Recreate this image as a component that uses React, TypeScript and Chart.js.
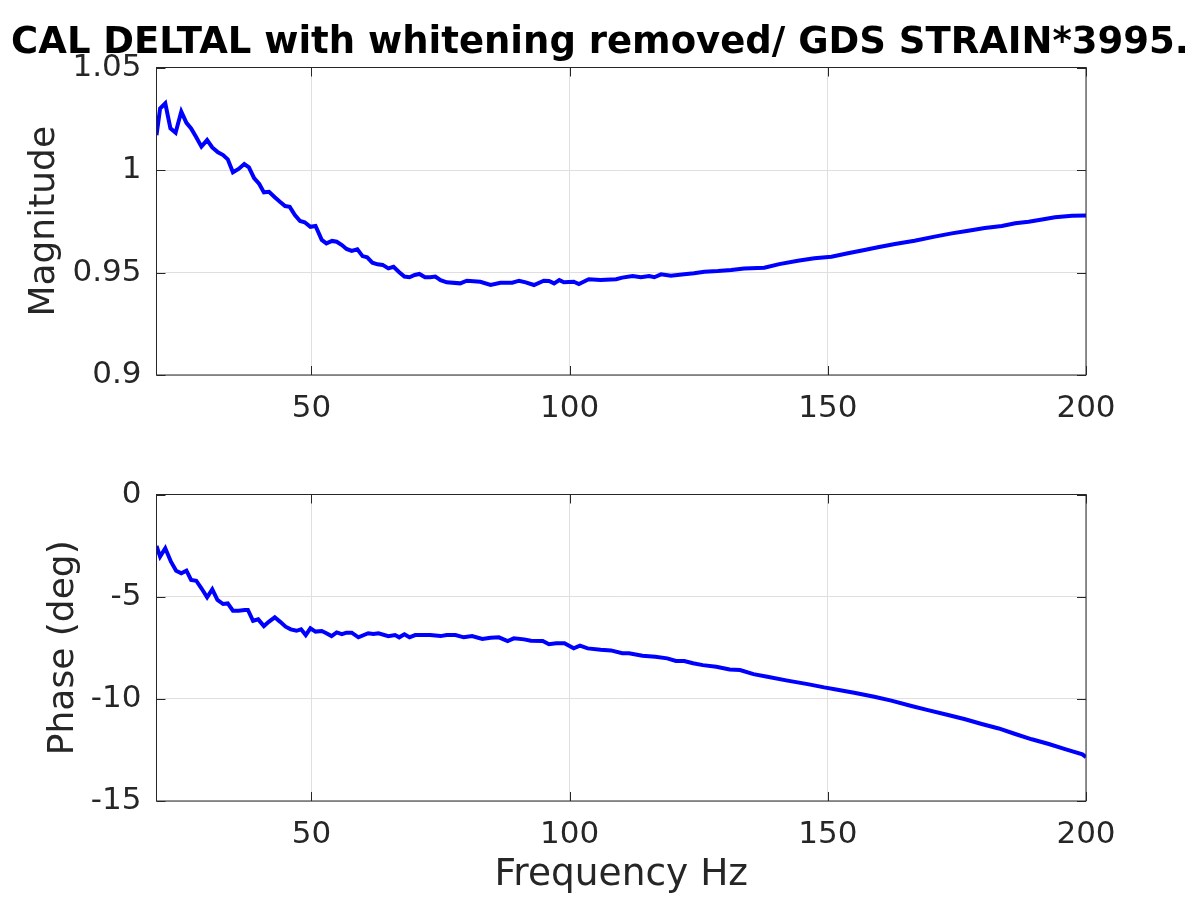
import React, { useEffect, useRef } from 'react';
import { Chart, ChartConfiguration, registerables } from 'chart.js';

Chart.register(...registerables);

const FONT = '"DejaVu Sans", sans-serif';
const TEXT = '#262626';
const GRID = '#dfdfdf';
const LINE = '#0000ff';

const titleText = 'CAL DELTAL with whitening removed/ GDS STRAIN*3995.';
const freqLabel = 'Frequency Hz';
const magLabel = 'Magnitude';
const phaseLabel = 'Phase (deg)';

const freqTicks = [50, 100, 150, 200];
const magTicks = [0.9, 0.95, 1, 1.05];
const phaseTicks = [-15, -10, -5, 0];

const magFreq = [
    20, 20.7, 21.7, 22.7, 23.7, 24.8, 25.8, 26.7, 27.7, 28.7, 29.8, 30.8, 31.9, 32.9, 33.8, 34.8, 35.9, 37, 37.9,
    38.9, 39.9, 40.8, 41.8, 42.9, 43.9, 44.9, 45.8, 46.8, 47.8, 48.7, 49.8, 50.8, 52, 52.9, 54, 54.9, 55.9, 56.8,
    57.8, 58.9, 59.9, 60.8, 61.8, 62.8, 63.8, 64.9, 65.9, 66.9, 68, 69, 70, 70.9, 72, 73, 74, 75, 76.2, 78.8, 80.1,
    82.7, 84.7, 86.6, 88.9, 90.2, 91.5, 93.1, 95, 96, 97, 98, 98.9, 100.8, 101.8, 103.7, 106, 109, 110.2, 112.2,
    113.8, 115.4, 116.4, 117.7, 119.6, 122.2, 124.1, 126.1, 128.7, 131.3, 133.8, 137.7, 140.6, 144.2, 147.4, 150.7,
    153.9, 157.1, 159.7, 163, 166.8, 170.7, 174, 177.2, 180.4, 183.7, 186.3, 188.9, 191.5, 194, 197.3, 200,
];
const magValues = [
    1.017, 1.03, 1.0325, 1.0203, 1.0182, 1.0285, 1.023, 1.0203, 1.016, 1.0114, 1.0146, 1.011, 1.0086, 1.0073, 1.0052,
    0.9989, 1.0005, 1.0029, 1.0013, 0.996, 0.9932, 0.9891, 0.9894, 0.9867, 0.9845, 0.9824, 0.982, 0.978, 0.9751,
    0.9745, 0.9723, 0.9727, 0.9659, 0.9642, 0.9654, 0.965, 0.9634, 0.9615, 0.9605, 0.9613, 0.958, 0.9574, 0.9548,
    0.954, 0.9537, 0.952, 0.9528, 0.9504, 0.948, 0.9477, 0.9488, 0.9493, 0.9477, 0.9477, 0.948, 0.9463, 0.9452,
    0.9447, 0.946, 0.9455, 0.9439, 0.945, 0.945, 0.946, 0.9452, 0.9439, 0.946, 0.9459, 0.9447, 0.9463, 0.9452, 0.9455,
    0.9444, 0.9467, 0.9463, 0.9467, 0.9475, 0.9483, 0.9477, 0.9483, 0.9477, 0.9491, 0.9484, 0.9492, 0.9496, 0.9504,
    0.9507, 0.9512, 0.952, 0.9523, 0.9541, 0.9557, 0.9569, 0.9577, 0.9594, 0.961, 0.9623, 0.9639, 0.9655, 0.9675,
    0.9691, 0.9704, 0.9717, 0.9727, 0.974, 0.9748, 0.9759, 0.9769, 0.9777, 0.9778,
];

const phaseFreq = [
    20, 20.7, 21.7, 22.8, 23.8, 24.8, 25.8, 26.7, 27.7, 28.7, 29.8, 30.8, 31.8, 32.9, 33.8, 34.8, 35.9, 37.1, 37.7,
    38.7, 39.7, 40.8, 41.8, 42.9, 43.9, 45, 46, 47.1, 48, 48.9, 49.8, 50.8, 52, 52.9, 53.9, 54.9, 55.9, 56.8, 57.8,
    59.1, 61, 62, 63, 64.9, 66.2, 67, 68, 69, 70.1, 71.7, 73, 75, 76.2, 77.9, 79.5, 81.1, 83.1, 84.7, 86.3, 88, 89.2,
    91.2, 92.5, 94.8, 96, 97.4, 99, 100.8, 102, 103.5, 106, 108, 110.2, 111.5, 114.1, 116.6, 118.9, 120.6, 122.2,
    123.9, 125.8, 128.4, 131, 133, 135.6, 138.3, 142.2, 146.1, 149.3, 151.6, 155.1, 159, 162.3, 166.2, 169.4, 173.3,
    176.6, 179.8, 183.1, 186.3, 189.5, 192.8, 196.1, 199.3, 200,
];
const phaseValues = [
    -2.52, -3.04, -2.63, -3.29, -3.73, -3.86, -3.73, -4.18, -4.22, -4.59, -5.03, -4.64, -5.16, -5.36, -5.33, -5.69,
    -5.69, -5.65, -5.65, -6.18, -6.11, -6.44, -6.22, -6.01, -6.22, -6.47, -6.6, -6.67, -6.6, -6.88, -6.55, -6.71,
    -6.68, -6.79, -6.93, -6.75, -6.83, -6.76, -6.76, -6.99, -6.79, -6.83, -6.79, -6.93, -6.88, -6.99, -6.84, -6.99,
    -6.88, -6.88, -6.88, -6.93, -6.88, -6.88, -6.99, -6.93, -7.07, -7.01, -6.99, -7.17, -7.04, -7.09, -7.16, -7.17,
    -7.33, -7.28, -7.28, -7.53, -7.4, -7.53, -7.6, -7.63, -7.77, -7.77, -7.89, -7.94, -8.02, -8.15, -8.15, -8.26,
    -8.35, -8.43, -8.56, -8.59, -8.79, -8.92, -9.11, -9.28, -9.44, -9.54, -9.7, -9.9, -10.09, -10.35, -10.55, -10.79,
    -11.0, -11.23, -11.45, -11.72, -11.98, -12.21, -12.47, -12.72, -12.85,
];

// matlab style axes box with inward tick marks on all four sides
const boxPlugin = {
    id: 'matlabBox',
    afterDatasetsDraw(chart: Chart) {
        const { ctx, chartArea: a, scales } = chart;
        const len = 9;
        ctx.save();
        ctx.strokeStyle = TEXT;
        ctx.lineWidth = 1;
        ctx.beginPath();
        scales.x.ticks.forEach((t) => {
            const px = Math.round(scales.x.getPixelForValue(t.value)) + 0.5;
            ctx.moveTo(px, a.top);
            ctx.lineTo(px, a.top + len);
            ctx.moveTo(px, a.bottom);
            ctx.lineTo(px, a.bottom - len);
        });
        scales.y.ticks.forEach((t) => {
            const py = Math.round(scales.y.getPixelForValue(t.value)) + 0.5;
            ctx.moveTo(a.left, py);
            ctx.lineTo(a.left + len, py);
            ctx.moveTo(a.right, py);
            ctx.lineTo(a.right - len, py);
        });
        ctx.stroke();
        ctx.strokeRect(a.left, a.top, a.right - a.left, a.bottom - a.top);
        ctx.restore();
    },
};

const figureTitle = {
    id: 'figureTitle',
    afterDraw(chart: Chart) {
        const ctx = chart.ctx;
        ctx.save();
        ctx.font = `bold 37px ${FONT}`;
        ctx.fillStyle = '#000';
        ctx.textAlign = 'center';
        ctx.textBaseline = 'alphabetic';
        ctx.fillText(titleText, 600, 53);
        ctx.restore();
    },
};

interface PanelSpec {
    xs: number[];
    ys: number[];
    yTicks: number[];
    yLabel: string;
    yLabelPad: number;
    padTop: number;
    xHeight: number;
    xLabel?: string;
    extra?: any[];
}

const makeConfig = (p: PanelSpec): ChartConfiguration<'line'> => ({
    type: 'line',
    data: {
        datasets: [
            {
                data: p.xs.map((x, i) => ({ x, y: p.ys[i] })),
                borderColor: LINE,
                borderWidth: 4,
                pointRadius: 0,
                tension: 0,
                fill: false,
            },
        ],
    },
    options: {
        responsive: false,
        animation: false,
        layout: { padding: { left: 0, right: 114, top: p.padTop, bottom: 0 } },
        plugins: { legend: { display: false }, tooltip: { enabled: false } },
        scales: {
            x: {
                type: 'linear',
                min: 20,
                max: 200,
                afterBuildTicks: (s: any) => {
                    s.ticks = freqTicks.map((value) => ({ value }));
                },
                afterFit: (s: any) => {
                    s.height = p.xHeight;
                },
                grid: { color: GRID, drawTicks: false },
                border: { display: false },
                ticks: {
                    font: { family: FONT, size: 31 },
                    color: TEXT,
                    padding: 15,
                    maxRotation: 0,
                    autoSkip: false,
                    callback: (v) => String(v),
                },
                title: p.xLabel
                    ? {
                          display: true,
                          text: p.xLabel,
                          font: { family: FONT, size: 37.5 },
                          color: TEXT,
                          padding: { top: 0, bottom: 2 },
                      }
                    : { display: false },
            },
            y: {
                type: 'linear',
                min: p.yTicks[0],
                max: p.yTicks[p.yTicks.length - 1],
                afterBuildTicks: (s: any) => {
                    s.ticks = p.yTicks.map((value) => ({ value }));
                },
                afterFit: (s: any) => {
                    s.width = 156.5;
                },
                grid: { color: GRID, drawTicks: false },
                border: { display: false },
                ticks: {
                    font: { family: FONT, size: 31 },
                    color: TEXT,
                    padding: 15,
                    autoSkip: false,
                    callback: (v) => String(v),
                },
                title: {
                    display: true,
                    text: p.yLabel,
                    font: { family: FONT, size: 36 },
                    color: TEXT,
                    padding: { top: p.yLabelPad, bottom: 0 },
                },
            },
        },
    },
    plugins: [boxPlugin, ...(p.extra || [])],
});

const Panel = ({ spec, top }: { spec: PanelSpec; top: number }) => {
    const canvas = useRef<HTMLCanvasElement | null>(null);
    useEffect(() => {
        const item = canvas.current?.getContext('2d');
        const chart = item && new Chart(item, makeConfig(spec));
        return () => chart?.destroy();
    }, []);
    return (
        <canvas
            ref={canvas}
            width={1200}
            height={450}
            style={{ position: 'absolute', left: 0, top, width: 1200, height: 450, display: 'block' }}
        />
    );
};

const magSpec: PanelSpec = {
    xs: magFreq,
    ys: magValues,
    yTicks: magTicks,
    yLabel: magLabel,
    yLabelPad: 23,
    padTop: 67.5,
    xHeight: 75,
    extra: [figureTitle],
};

const phaseSpec: PanelSpec = {
    xs: phaseFreq,
    ys: phaseValues,
    yTicks: phaseTicks,
    yLabel: phaseLabel,
    yLabelPad: 42,
    padTop: 44.5,
    xHeight: 99,
    xLabel: freqLabel,
};

export default function App() {
    return (
        <div style={{ position: 'fixed', left: 0, top: 0, width: 1200, height: 900, background: '#fff' }}>
            <Panel spec={magSpec} top={0} />
            <Panel spec={phaseSpec} top={450} />
        </div>
    );
}
